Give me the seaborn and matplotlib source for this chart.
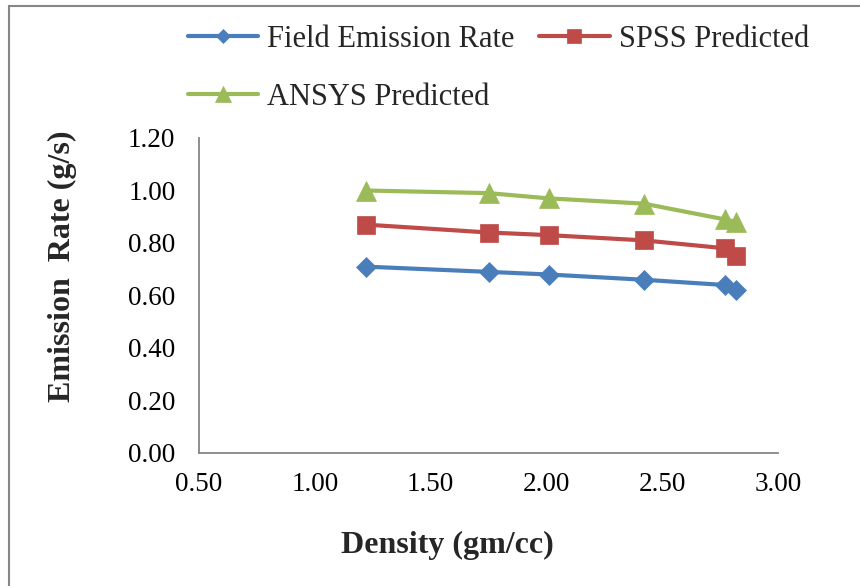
import matplotlib
matplotlib.use("Agg")
import matplotlib.pyplot as plt
from matplotlib.patches import Rectangle
from matplotlib.ticker import FormatStrFormatter, MultipleLocator
import numpy as np
import pandas as pd
import seaborn as sns

# ---- data ----
density = [1.22, 1.75, 2.01, 2.42, 2.77, 2.82]
field_emission = [0.71, 0.69, 0.68, 0.66, 0.64, 0.62]
spss_predicted = [0.87, 0.84, 0.83, 0.81, 0.78, 0.75]
ansys_predicted = [1.00, 0.99, 0.97, 0.95, 0.89, 0.88]
series_names = ["Field Emission Rate", "SPSS Predicted", "ANSYS Predicted"]

df = pd.DataFrame({
    "Density": density,
    series_names[0]: field_emission,
    series_names[1]: spss_predicted,
    series_names[2]: ansys_predicted,
})

sns.set_theme(style="white")
plt.rcParams["font.family"] = ["Liberation Serif", "DejaVu Serif"]

fig = plt.figure(figsize=(8.6, 5.86), dpi=100)
W, H = 860, 586
ax = fig.add_axes([199 / W, 1 - 453 / H, (778 - 199) / W, (453 - 138) / H])

styles = [
    dict(color="#4A7EBB", marker="D", markersize=10),
    dict(color="#BE4B48", marker="s", markersize=12.5),
    dict(color="#9BBB59", marker="^", markersize=14.5),
]
for name, st in zip(series_names, styles):
    sns.lineplot(data=df, x="Density", y=name, ax=ax, label=name,
                 color=st["color"], marker=st["marker"],
                 markersize=st["markersize"], markeredgecolor=st["color"],
                 markeredgewidth=0.5, linewidth=3)

ax.set_xlim(0.5, 3.0)
ax.set_ylim(0.0, 1.2)
ax.xaxis.set_major_locator(MultipleLocator(0.5))
ax.yaxis.set_major_locator(MultipleLocator(0.2))
ax.xaxis.set_major_formatter(FormatStrFormatter("%.2f"))
ax.yaxis.set_major_formatter(FormatStrFormatter("%.2f"))
ax.tick_params(axis="both", length=0, labelsize=19.5, colors="black")
ax.tick_params(axis="x", pad=14)
ax.tick_params(axis="y", pad=17)
for s in ["top", "right"]:
    ax.spines[s].set_visible(False)
for s in ["left", "bottom"]:
    ax.spines[s].set_color("#868686")
    ax.spines[s].set_linewidth(1.3)
ax.grid(False)

ax.set_xlabel("Density (gm/cc)", fontsize=23, fontweight="bold")
ax.set_ylabel("Emission  Rate (g/s)", fontsize=23, fontweight="bold")
ax.xaxis.set_label_coords((447 - 199) / 579, (453 - 531) / 315)
ax.yaxis.set_label_coords((77 - 199) / 579, (453 - 266) / 315)

handles, labels = ax.get_legend_handles_labels()
ax.get_legend().remove()
order = [0, 2, 1]  # column-major fill -> row1: Field, SPSS; row2: ANSYS
fig.legend([handles[i] for i in order], [labels[i] for i in order],
           loc="upper left",
           bbox_to_anchor=(188 / W, 1 - 25 / H), ncol=2, frameon=False,
           fontsize=22, handlelength=2.3, handletextpad=0.3,
           columnspacing=0.8, labelspacing=0.95, borderpad=0,
           borderaxespad=0, markerscale=0.75)

# chart border (cropped Excel chart frame)
fig.add_artist(Rectangle((9 / W, -0.1), 2.0, (1 - 6 / H) + 0.1,
                         transform=fig.transFigure, fill=False,
                         edgecolor="#868686", linewidth=1.5))

fig.savefig("out.png", dpi=100)
